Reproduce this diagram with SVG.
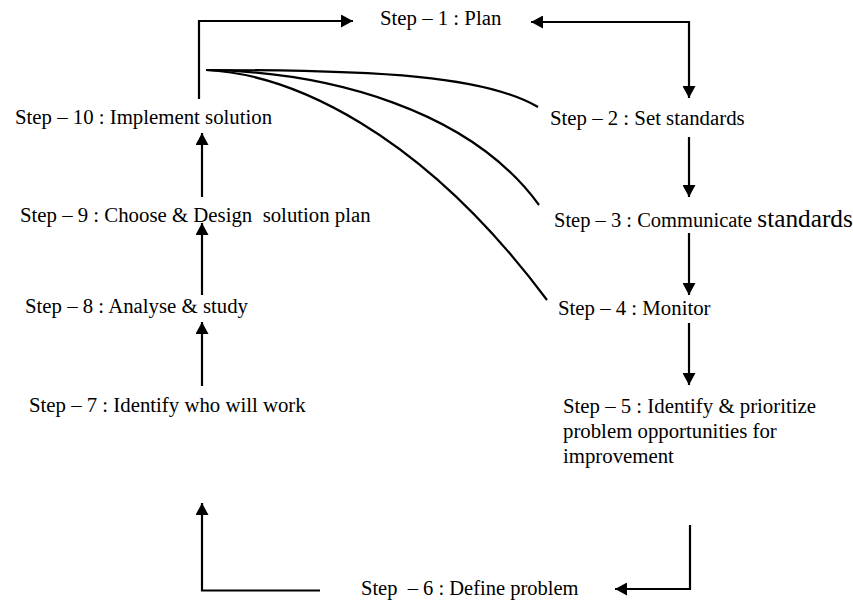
<svg xmlns="http://www.w3.org/2000/svg" width="853" height="601" viewBox="0 0 853 601">
  <style>
    text { font-family: 'Liberation Serif', Tinos, 'Times New Roman', 'Noto Serif', 'DejaVu Serif', serif; font-size: 20.8px; fill: #000; white-space: pre; }
    .tight { font-size: 20.5px; }
    .big { font-size: 25.3px; }
    .conn { fill: none; stroke: #000; stroke-width: 2.2; }
    .arr { marker-end: url(#head); }
  </style>
  <defs>
    <marker id="head" markerUnits="userSpaceOnUse" markerWidth="13" markerHeight="13" refX="12" refY="6.5" orient="auto-start-reverse">
      <path d="M0,0 L12,6.5 L0,13 Z" fill="#000"/>
    </marker>
  </defs>

  <!-- connectors -->
  <g id="connectors">
    <!-- step 10 back to step 1 -->
    <path class="conn arr" d="M199,99 V21 H353"/>
    <!-- step 1 to step 2 (double headed elbow) -->
    <path class="conn" d="M531,22 H689 V98" marker-start="url(#head)" marker-end="url(#head)"/>
    <path class="conn arr" d="M689,137 V197"/>
    <path class="conn arr" d="M689,233 V295"/>
    <path class="conn arr" d="M689,323 V385"/>
    <!-- step 5 down and left to step 6 -->
    <path class="conn arr" d="M690,525 V589 H615"/>
    <!-- step 6 left and up to step 7 -->
    <path class="conn arr" d="M320,590.5 H202 V503"/>
    <path class="conn arr" d="M202,386 V322"/>
    <path class="conn arr" d="M202,295 V223"/>
    <path class="conn arr" d="M202,197 V133"/>
    <!-- feedback curves from implement solution -->
    <path class="conn" d="M206,70 C380,70 485,76 538,107"/>
    <path class="conn" d="M206,70 C330,72 470,110 539,205"/>
    <path class="conn" d="M206,70 C290,74 420,130 547,300"/>
  </g>

  <g id="step1"><text x="380" y="25">Step – 1 : Plan</text></g>
  <g id="step2"><text x="550" y="125">Step – 2 : Set standards</text></g>
  <g id="step3"><text class="tight" x="554" y="227">Step – 3 : Communicate <tspan class="big">standards</tspan></text></g>
  <g id="step4"><text x="558" y="315">Step – 4 : Monitor</text></g>
  <g id="step5">
    <text x="563" y="413">Step – 5 : Identify &amp; prioritize</text>
    <text x="563" y="438">problem opportunities for</text>
    <text x="563" y="463">improvement</text>
  </g>
  <g id="step6"><text class="tight" x="361" y="595">Step  – 6 : Define problem</text></g>
  <g id="step7"><text x="29" y="412">Step – 7 : Identify who will work</text></g>
  <g id="step8"><text x="25" y="313">Step – 8 : Analyse &amp; study</text></g>
  <g id="step9"><text x="20" y="222">Step – 9 : Choose &amp; Design  solution plan</text></g>
  <g id="step10"><text x="15" y="124">Step – 10 : Implement solution</text></g>
</svg>
